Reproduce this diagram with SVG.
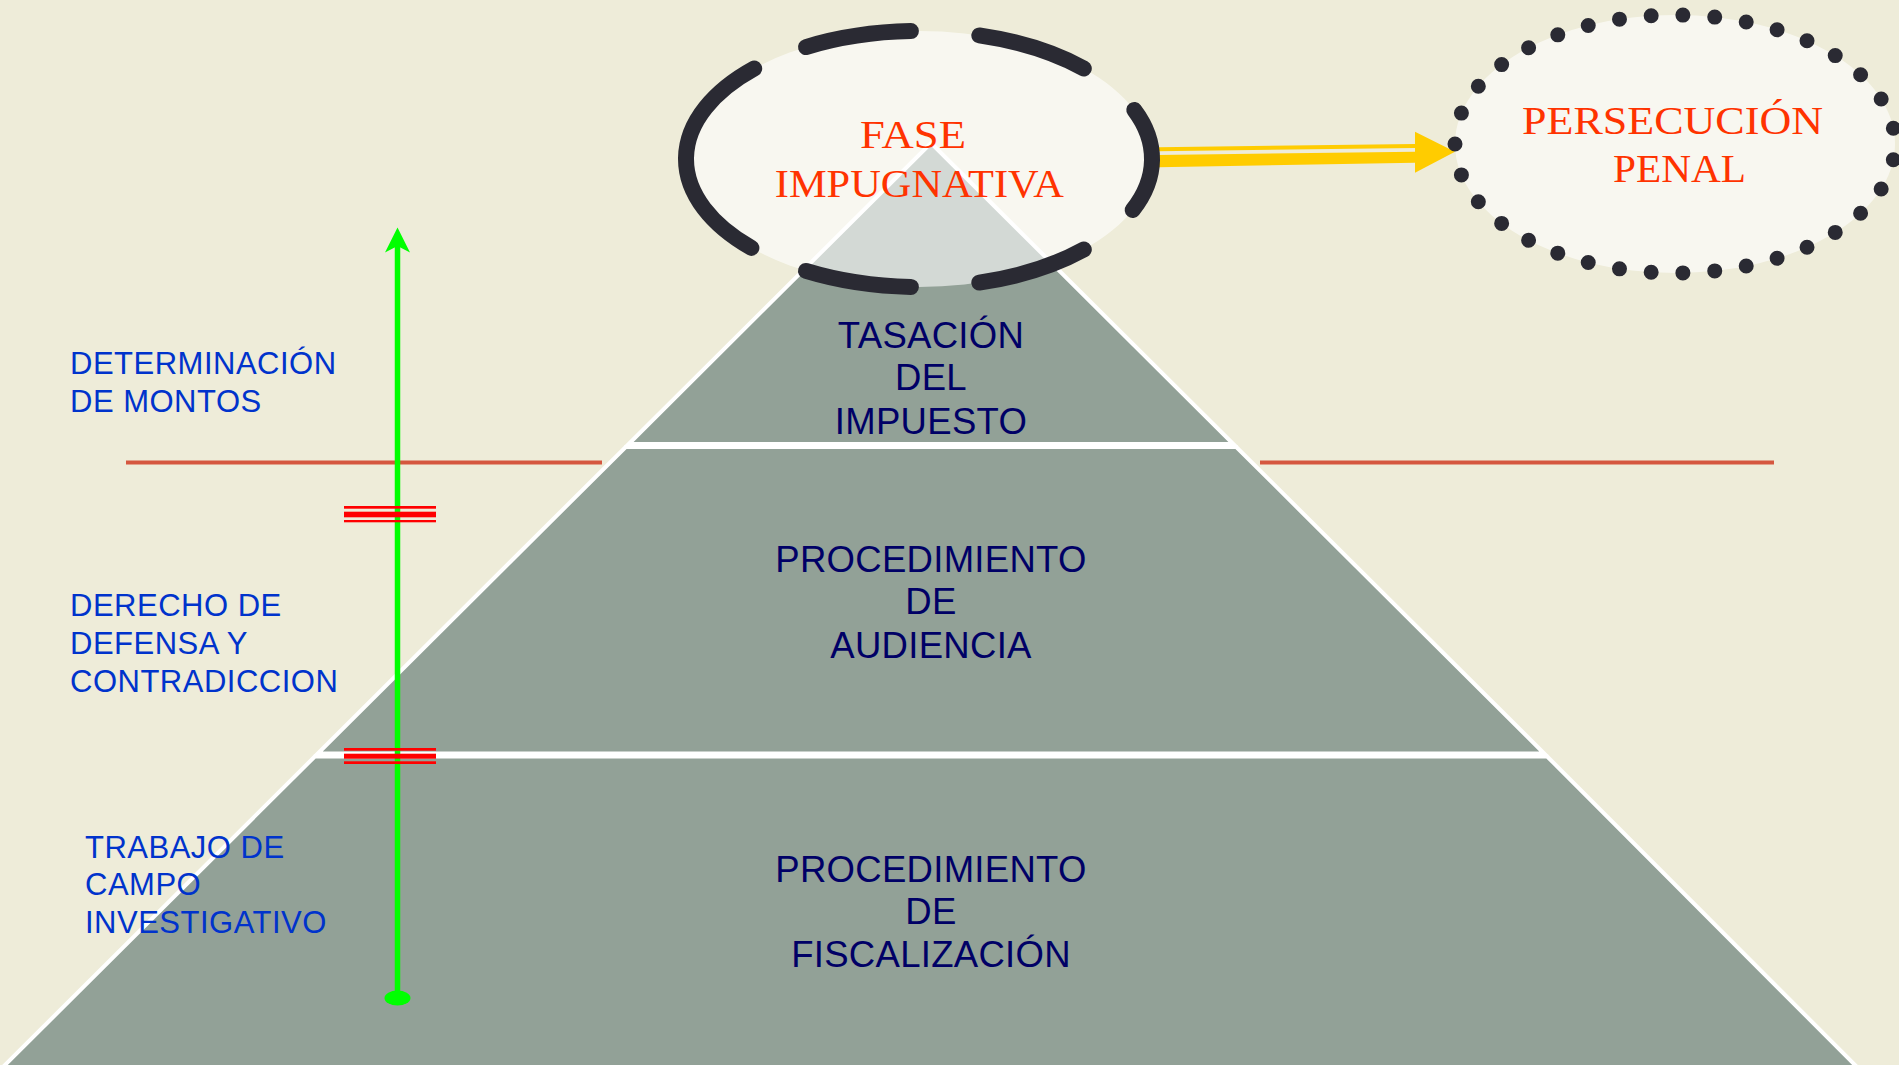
<svg xmlns="http://www.w3.org/2000/svg" width="1899" height="1065" viewBox="0 0 1899 1065">
<defs>
<style>
.piece{fill:#92A197;stroke:#FFFFFF;stroke-width:4;stroke-linejoin:miter}
.ptxt{font-family:"Liberation Sans",Arial,sans-serif;font-size:36.5px;fill:#000066;text-anchor:middle;letter-spacing:0.3px}
.ltxt{font-family:"Liberation Sans",Arial,sans-serif;font-size:31px;fill:#0033CC;letter-spacing:0.5px}
.stxt{font-family:"Liberation Serif","Times New Roman",serif;font-size:41px;fill:#FF3300;text-anchor:middle}
.dash{fill:none;stroke:#2A2A33;stroke-width:16;stroke-linecap:round}
.sep{stroke:#D5573F;stroke-width:4}
.mark{fill:#FF0000}
</style>
</defs>
<rect x="0" y="0" width="1899" height="1065" fill="#EEECD9"/>
<g id="separator">
<line class="sep" x1="126" y1="462.5" x2="602" y2="462.5"/>
<line class="sep" x1="1260" y1="462.5" x2="1774" y2="462.5"/>
</g>
<g id="pyramid-bottom">
<polygon class="piece" points="314.8,756.5 1547.2,756.5 1858,1068 2,1068"/>
<text class="ptxt" x="931" y="882">PROCEDIMIENTO</text>
<text class="ptxt" x="931" y="924">DE</text>
<text class="ptxt" x="931" y="967">FISCALIZACIÓN</text>
</g>
<g id="pyramid-middle">
<polygon class="piece" points="625.7,447 1236.3,447 1544.2,753.5 317.8,753.5"/>
<text class="ptxt" x="931" y="572">PROCEDIMIENTO</text>
<text class="ptxt" x="931" y="614">DE</text>
<text class="ptxt" x="931" y="658">AUDIENCIA</text>
</g>
<g id="pyramid-top">
<polygon class="piece" points="931,143 1233.3,444 628.7,444"/>
<text class="ptxt" x="931" y="348">TASACIÓN</text>
<text class="ptxt" x="931" y="390">DEL</text>
<text class="ptxt" x="931" y="434">IMPUESTO</text>
</g>
<g id="connectors">
<g id="arrow-fase-persecucion" fill="#FFCC00">
<polygon points="1158,147.3 1415,144 1415,148 1158,151.3"/>
<polygon points="1158,155 1415,151.7 1415,162.7 1158,167.3"/>
<polygon points="1415,131.7 1455,151.7 1415,172.7"/>
</g>
</g>
<g id="fase-impugnativa">
<ellipse cx="919" cy="159" rx="233" ry="128" fill="#FFFFFF" fill-opacity="0.6"/>
<path class="dash" d="M1134.3,110 A233,128 0 0 1 1132.7,210"/>
<path class="dash" d="M1083.8,249.5 A233,128 0 0 1 979.3,282.6"/>
<path class="dash" d="M910.9,286.9 A233,128 0 0 1 806,270.9"/>
<path class="dash" d="M751.4,247.9 A233,128 0 0 1 754.2,68.5"/>
<path class="dash" d="M806,47.1 A233,128 0 0 1 910.9,31.1"/>
<path class="dash" d="M979.3,35.4 A233,128 0 0 1 1083.8,68.5"/>
<text class="stxt" x="913" y="148" textLength="106" lengthAdjust="spacingAndGlyphs">FASE</text>
<text class="stxt" x="919.3" y="197" textLength="289" lengthAdjust="spacingAndGlyphs">IMPUGNATIVA</text>
</g>
<g id="persecucion-penal">
<ellipse cx="1675" cy="144" rx="220" ry="129" fill="#FFFFFF" fill-opacity="0.6"/>
<ellipse cx="1675" cy="144" rx="220" ry="129" fill="none" stroke="#2A2A33" stroke-width="15" stroke-linecap="round" pathLength="35" stroke-dasharray="0 1" stroke-dashoffset="0.5"/>
<text class="stxt" x="1672.5" y="134" textLength="301" lengthAdjust="spacingAndGlyphs">PERSECUCIÓN</text>
<text class="stxt" x="1679.5" y="182" textLength="133" lengthAdjust="spacingAndGlyphs">PENAL</text>
</g>
<g id="progress-arrow">
<line x1="397.5" y1="998" x2="397.5" y2="244" stroke="#00FF00" stroke-width="5.5"/>
<polygon points="397.5,227.5 410,252.5 397.5,246 385,252.5" fill="#00FF00"/>
<ellipse cx="397.5" cy="998" rx="13" ry="7.5" fill="#00FF00"/>
</g>
<g id="mark-1">
<rect class="mark" x="344" y="506" width="92" height="2.7"/>
<rect class="mark" x="344" y="511.7" width="92" height="5.6"/>
<rect class="mark" x="344" y="520" width="92" height="2.3"/>
</g>
<g id="mark-2">
<rect class="mark" x="344" y="748" width="92" height="2.7"/>
<rect class="mark" x="344" y="753.7" width="92" height="5"/>
<rect class="mark" x="344" y="761.3" width="92" height="2.7"/>
</g>
<g id="label-determinacion">
<text class="ltxt" x="70" y="374">DETERMINACIÓN</text>
<text class="ltxt" x="70" y="411.5">DE MONTOS</text>
</g>
<g id="label-derecho">
<text class="ltxt" x="70" y="615.5">DERECHO DE</text>
<text class="ltxt" x="70" y="653.5">DEFENSA Y</text>
<text class="ltxt" x="70" y="692">CONTRADICCION</text>
</g>
<g id="label-trabajo">
<text class="ltxt" x="85" y="857.5">TRABAJO DE</text>
<text class="ltxt" x="85" y="895">CAMPO</text>
<text class="ltxt" x="85" y="933.3">INVESTIGATIVO</text>
</g>
</svg>
